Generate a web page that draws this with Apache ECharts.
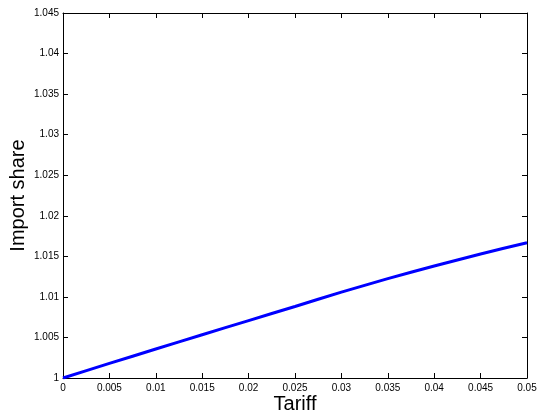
<!DOCTYPE html>
<html>
<head>
<meta charset="utf-8">
<script src="https://cdn.jsdelivr.net/npm/echarts@6/dist/echarts.min.js"></script>
<style>html,body{margin:0;padding:0;background:#fff}#c{width:539px;height:419px}</style>
</head>
<body>
<div id="c"></div>
<script>
var tariff = [0, 0.005, 0.01, 0.015, 0.02, 0.025, 0.03, 0.035, 0.04, 0.045, 0.05];
var importShare = [1, 1.0018, 1.00357, 1.00533, 1.00708, 1.00882, 1.01058, 1.01225, 1.01381, 1.01529, 1.01668];
var xTitle = 'Tariff';
var yTitle = 'Import share';

var chart = echarts.init(document.getElementById('c'), null, {renderer: 'canvas'});
var font = 'Liberation Sans, Arial, sans-serif';
var lineStyle = {color: '#000', width: 1};
var data = tariff.map(function (t, i) { return [t, importShare[i]]; });
function fmt(v) { return String(Math.round(v * 1000) / 1000); }
var baseX = {
  type: 'value', min: 0, max: 0.05, interval: 0.005,
  axisLine: {show: true, lineStyle: lineStyle, onZero: false},
  axisTick: {show: true, inside: true, length: 5, lineStyle: lineStyle},
  splitLine: {show: false}
};
var baseY = {
  type: 'value', min: 1, max: 1.045, interval: 0.005,
  axisLine: {show: true, lineStyle: lineStyle, onZero: false},
  axisTick: {show: true, inside: true, length: 5, lineStyle: lineStyle},
  splitLine: {show: false}
};
chart.setOption({
  animation: false,
  backgroundColor: '#fff',
  grid: {left: 63, top: 13, right: 12, bottom: 41, containLabel: false, outerBoundsMode: 'none'},
  xAxis: [
    Object.assign({}, baseX, {
      position: 'bottom',
      name: xTitle, nameLocation: 'middle', nameGap: 16, nameMoveOverlap: false,
      nameTextStyle: {fontFamily: font, fontSize: 20, color: '#000'},
      axisLabel: {fontFamily: font, fontSize: 10, color: '#000', margin: 5, formatter: fmt}
    }),
    Object.assign({}, baseX, {position: 'top', axisLabel: {show: false}})
  ],
  yAxis: [
    Object.assign({}, baseY, {
      position: 'left',
      name: yTitle, nameLocation: 'middle', nameGap: 35, nameMoveOverlap: false,
      nameTextStyle: {fontFamily: font, fontSize: 20, color: '#000'},
      axisLabel: {fontFamily: font, fontSize: 10, color: '#000', margin: 4, formatter: fmt}
    }),
    Object.assign({}, baseY, {position: 'right', axisLabel: {show: false}})
  ],
  series: [{
    type: 'line', xAxisIndex: 0, yAxisIndex: 0,
    data: data, smooth: 0.2, showSymbol: false,
    lineStyle: {color: '#0000ff', width: 3}
  }]
});
</script>
</body>
</html>
